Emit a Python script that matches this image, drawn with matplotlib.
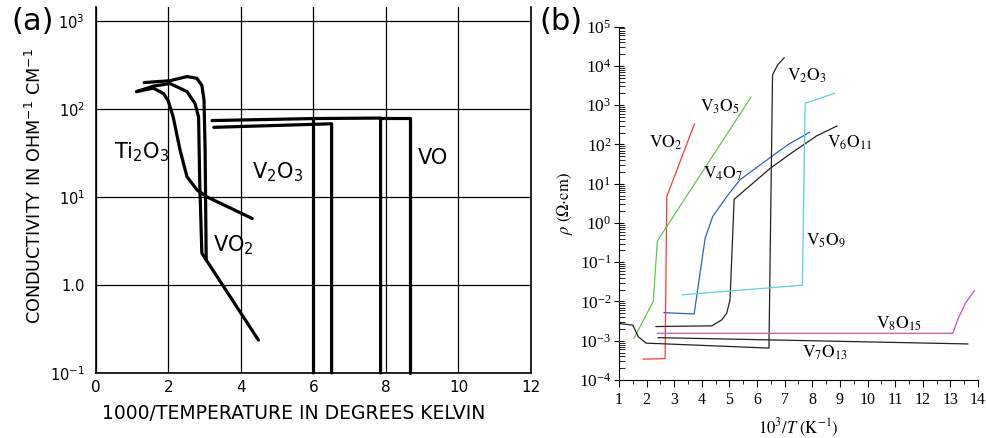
import numpy as np
import matplotlib.pyplot as plt

# ---- panel (a): conductivity vs 1000/T (hand drawn style) ----
a_xticks = [0, 2, 4, 6, 8, 10, 12]
a_yticks = [0.1, 1.0, 10, 100, 1000]
a_yticklabels = [r'$10^{-1}$', '1.0', r'$10^{1}$', r'$10^{2}$', r'$10^{3}$']

vo2_a_x = [1.33, 2.04, 2.51, 2.78, 2.92, 2.98, 3.01, 3.04]
vo2_a_y = [200, 210, 234, 224, 186, 126, 34, 1.9]
vo2_b_x = [1.12, 1.58, 2.04, 2.51, 2.73, 2.83, 2.86, 2.92, 4.48]
vo2_b_y = [158, 182, 195, 158, 116, 81, 15.5, 2.3, 0.237]
ti2o3_x = [1.12, 1.58, 1.86, 1.99, 2.13, 2.32, 2.51, 2.79, 3.07, 4.31]
ti2o3_y = [158, 173, 150, 125, 81, 34, 17, 12, 10, 5.7]
v2o3_a_x = [3.2, 6.0, 6.0]
v2o3_a_y = [74, 78, 0.1]
v2o3_b_x = [3.25, 6.5, 6.5]
v2o3_b_y = [62, 68, 0.1]
vo_a_x = [6.0, 7.85, 7.85]
vo_a_y = [78, 79, 0.1]
vo_b_x = [7.85, 8.67, 8.67]
vo_b_y = [79, 79, 0.1]

# ---- panel (b): resistivity vs 10^3/T ----
vo2_x = [1.88, 2.67, 2.73, 3.73]
vo2_y = [3.4e-4, 3.5e-4, 4.7, 330]
v3o5_x = [1.54, 2.24, 2.39, 5.78]
v3o5_y = [1.15e-3, 1.0e-2, 0.35, 1600]
v4o7_x = [2.63, 3.72, 4.12, 4.39, 4.90, 5.38, 6.35, 7.13, 7.90]
v4o7_y = [5.2e-3, 4.8e-3, 0.41, 1.45, 4.7, 12.6, 40, 100, 204]
v6o11_x = [2.34, 4.36, 4.72, 4.90, 5.02, 5.17, 5.63, 6.47, 7.32, 8.16, 8.89]
v6o11_y = [2.3e-3, 2.4e-3, 3.4e-3, 5.0e-3, 1.1e-2, 4.0, 7.6, 24.5, 66, 166, 295]
v2o3_x = [1.0, 1.5, 1.7, 1.98, 6.43, 6.56, 6.74, 6.98]
v2o3_y = [2.75e-3, 2.5e-3, 1.26e-3, 8.7e-4, 6.5e-4, 5900, 10500, 16200]
v5o9_x = [3.29, 7.64, 7.74, 8.80]
v5o9_y = [1.48e-2, 2.6e-2, 1120, 2000]
v8o15_x = [2.39, 13.09, 13.26, 13.54, 13.87]
v8o15_y = [1.55e-3, 1.55e-3, 3.4e-3, 8.9e-3, 1.9e-2]
v7o13_x = [2.42, 13.63]
v7o13_y = [1.2e-3, 8.3e-4]

plt.rcParams['mathtext.fontset'] = 'stix'
fig = plt.figure(figsize=(9.87, 4.38), dpi=100)

# panel a
ax = fig.add_axes([96/987, 1-373/438, (531-96)/987, (373-7)/438])
ax.set_yscale('log')
ax.set_xlim(0, 12)
ax.set_ylim(0.1, 10**3.16)
ax.set_xticks(a_xticks)
ax.minorticks_off()
ax.set_yticks(a_yticks)
ax.set_yticklabels(a_yticklabels, math_fontfamily='dejavusans', fontsize=10.5)
ax.set_xticklabels([str(v) for v in a_xticks], fontsize=11)
ax.tick_params(length=0)
ax.tick_params(axis='y', pad=8)
ax.tick_params(axis='x', pad=5)
ax.grid(True, color='black', linewidth=0.9)
ax.spines['top'].set_visible(False)
for s in ['left', 'bottom', 'right']:
    ax.spines[s].set_linewidth(1.2)
lw = 2.3
for xs, ys in [(vo2_a_x, vo2_a_y), (vo2_b_x, vo2_b_y), (ti2o3_x, ti2o3_y),
               (v2o3_a_x, v2o3_a_y), (v2o3_b_x, v2o3_b_y),
               (vo_a_x, vo_a_y), (vo_b_x, vo_b_y)]:
    ax.plot(xs, ys, color='black', linewidth=lw, solid_capstyle='round', clip_on=False)
lab = dict(fontsize=15, math_fontfamily='dejavusans', ha='center', va='center')
ax.text(1.27, 32, r'$\mathrm{Ti_2O_3}$', **lab)
ax.text(5.0, 19, r'$\mathrm{V_2O_3}$', **lab)
ax.text(9.3, 28, 'VO', fontsize=15, ha='center', va='center')
ax.text(3.8, 2.8, r'$\mathrm{VO_2}$', **lab)
ax.set_xlabel('1000/TEMPERATURE IN DEGREES KELVIN', fontsize=13.5)
ax.xaxis.set_label_coords(0.455, -0.085)
ax.set_ylabel(r'CONDUCTIVITY IN OHM$^{-1}$ CM$^{-1}$', fontsize=12.7,
              math_fontfamily='dejavusans')
ax.yaxis.set_label_coords(-0.117, 0.51)
fig.text(0.012, 0.985, '(a)', fontsize=22, ha='left', va='top')

# panel b
bx = fig.add_axes([619/987, 1-380/438, (978-619)/987, (380-26.7)/438])
bx.set_yscale('log')
bx.set_xlim(1, 14)
bx.set_ylim(1e-4, 1e5)
bx.plot(vo2_x, vo2_y, color='#ff3b2f', lw=0.9)
bx.plot(v3o5_x, v3o5_y, color='#5dc84c', lw=0.9)
bx.plot(v4o7_x, v4o7_y, color='#2f5fc4', lw=0.9)
bx.plot(v6o11_x, v6o11_y, color='#222222', lw=0.9)
bx.plot(v2o3_x, v2o3_y, color='#222222', lw=0.9)
bx.plot(v5o9_x, v5o9_y, color='#55d4de', lw=0.9)
bx.plot(v8o15_x, v8o15_y, color='#c054c4', lw=0.9)
bx.plot(v7o13_x, v7o13_y, color='#222222', lw=0.9)
bx.set_xticks(range(1, 15))
bx.set_xticks(np.arange(1.5, 14, 1.0), minor=True)
bx.set_yticks([10.0**k for k in range(-4, 6)])
bx.spines['top'].set_visible(False)
bx.spines['right'].set_visible(False)
bx.tick_params(axis='x', which='major', direction='out', length=5, labelsize=11.5, pad=4)
bx.tick_params(axis='x', which='minor', direction='out', length=3)
bx.tick_params(axis='y', which='major', direction='inout', length=7, labelsize=12.5, pad=2)
bx.tick_params(axis='y', which='minor', direction='in', length=4)
for lbl in bx.get_xticklabels() + bx.get_yticklabels():
    lbl.set_fontfamily('Liberation Serif')
bx.set_xlabel(r'$10^3/T\ (\mathrm{K}^{-1})$', fontsize=12, labelpad=6)
bx.set_ylabel(r'$\rho\ (\Omega{\cdot}\mathrm{cm})$', fontsize=12, labelpad=3)
blab = dict(fontsize=12.5, ha='center', va='center')
bx.text(7.8, 10**3.74, r'$\mathrm{V_2O_3}$', **blab)
bx.text(4.66, 10**2.95, r'$\mathrm{V_3O_5}$', **blab)
bx.text(2.67, 10**2.05, r'$\mathrm{VO_2}$', **blab)
bx.text(9.37, 10**2.05, r'$\mathrm{V_6O_{11}}$', **blab)
bx.text(4.76, 10**1.25, r'$\mathrm{V_4O_7}$', **blab)
bx.text(8.5, 10**-0.45, r'$\mathrm{V_5O_9}$', **blab)
bx.text(11.12, 10**-2.56, r'$\mathrm{V_8O_{15}}$', **blab)
bx.text(8.46, 10**-3.30, r'$\mathrm{V_7O_{13}}$', **blab)
fig.text(0.546, 0.985, '(b)', fontsize=22, ha='left', va='top')

fig.savefig('out.png', dpi=100)
